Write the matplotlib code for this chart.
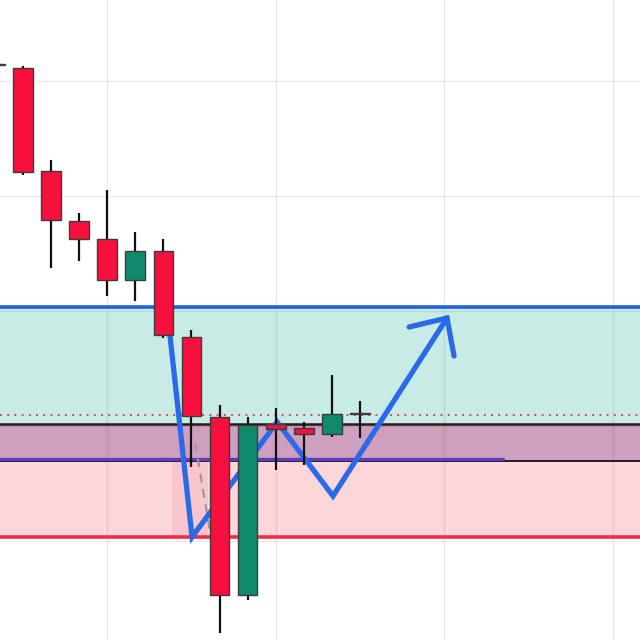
import matplotlib
matplotlib.use("Agg")
import matplotlib.pyplot as plt
import numpy as np

# ---- data (price units; arbitrary scale) ----
idx    = [-1, 0, 1, 2, 3, 4, 5, 6, 7, 8, 9, 10, 11, 12]
opens  = [575, 572, 469, 419, 401, 360, 389, 303, 223, 45, 216, 212, 206, 227]
closes = [576, 468, 420, 401, 360, 389, 305, 224, 45, 215, 211, 206, 226, 226]
highs  = [578, 574, 480, 427, 450, 408, 401, 310, 235, 223, 232, 218, 265, 239]
lows   = [573, 465, 372, 379, 344, 339, 302, 173, 7, 40, 170, 175, 203, 202]

resist_top = 333      # blue line / top of teal zone
zone_mid   = 216      # black line
zone_low   = 179      # black line bottom of purple zone
purple_ln  = 181
purple_end = 17.1
support    = 103      # red line
dotted_lvl = 225

path_x = [5.24, 6.02, 9.05, 11.04, 15.10]
path_y = [303, 103, 218, 144, 322]
head_x = [13.75, 15.10, 15.35]
head_y = [313, 322, 284]
dash_x = [6.13, 6.67]
dash_y = [197, 107]

RED = "#f70f3d"
GREEN = "#0f8a6c"

fig = plt.figure(figsize=(6.4, 6.4), dpi=100)
ax = fig.add_axes([0, 0, 1, 1])
xl = (-23 / 28.08, (640 - 23) / 28.08)
ax.set_xlim(*xl)
ax.set_ylim(0, 640)
for s in ax.spines.values():
    s.set_visible(False)
ax.set_xticks([3, 9, 15, 21])
ax.set_yticks([559, 444, 329, 214, 99])
ax.tick_params(length=0, labelbottom=False, labelleft=False)
ax.set_axisbelow('line')
ax.grid(True, color="#000000", alpha=0.08, lw=1.0)

# zones
ax.axhspan(zone_mid, resist_top, color="#c8ece5", zorder=1, lw=0)
ax.axhspan(zone_low, zone_mid, color="#cf9fc0", zorder=1, lw=0)
ax.axhspan(support, zone_low, color="#fdd6da", zorder=1, lw=0)
ax.fill_between([5.3, 6.6], support, zone_low, color="#f9c6cd", zorder=1, lw=0)

ax.axhline(resist_top, color="#1f62e0", lw=2.6, zorder=2)
ax.axhline(zone_mid, color="#2a1818", lw=1.8, zorder=2)
ax.axhline(zone_low, color="#2a1818", lw=1.4, zorder=2)
ax.plot([xl[0], purple_end], [purple_ln, purple_ln], color="#5a3fc0", lw=2.4, zorder=2,
        solid_capstyle="round")
ax.axhline(support, color="#f02c4a", lw=2.6, zorder=2)
ax.axhline(dotted_lvl, color="#e0303c", lw=1.3, ls=(0, (1, 3)), zorder=2)

# zigzag path (behind candles)
ax.plot(dash_x, dash_y, color="#9a9a9a", lw=1.6, ls=(0, (4, 3)), zorder=3)
ax.plot(path_x, path_y, color="#2a6ae8", lw=3.8, zorder=3, solid_joinstyle="miter",
        solid_capstyle="round")
ax.plot(head_x, head_y, color="#2a6ae8", lw=3.8, zorder=3, solid_capstyle="round",
        solid_joinstyle="miter")

# candles
o = np.array(opens); c = np.array(closes)
cols = [GREEN if cc > oo else RED for oo, cc in zip(o, c)]
ax.vlines(idx, lows, highs, color="#101010", lw=1.6, zorder=4)
bottoms = np.minimum(o, c)
heights = np.maximum(np.abs(c - o), 1.5)
ax.bar(idx, heights, bottom=bottoms, width=0.7, color=cols, edgecolor="#3c3c3c",
       linewidth=1.0, zorder=5)

fig.savefig("out.png", dpi=100)
